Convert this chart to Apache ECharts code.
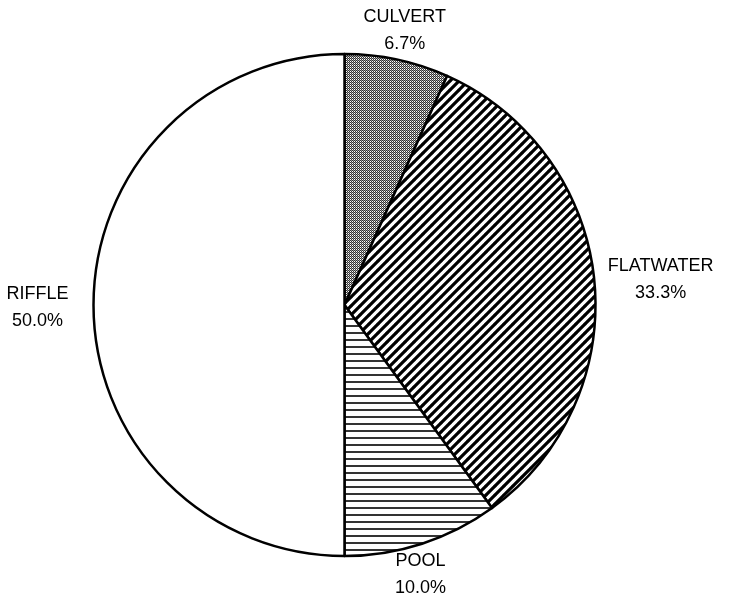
<!DOCTYPE html>
<html>
<head>
<meta charset="utf-8">
<script src="https://cdn.jsdelivr.net/npm/echarts@6/dist/echarts.min.js"></script>
<style>
  html, body { margin: 0; padding: 0; background: #fff; }
  #chart { width: 736px; height: 598px; }
</style>
</head>
<body>
<div id="chart"></div>
<script>
// Habitat types and their share of the surveyed reach (%)
const categories = ['CULVERT', 'FLATWATER', 'POOL', 'RIFFLE'];
const shares = [6.7, 33.3, 10.0, 50.0];

// Fill pattern tiles, one per habitat type
function tile(size, draw) {
  const c = document.createElement('canvas');
  c.width = size; c.height = size;
  const g = c.getContext('2d');
  g.fillStyle = '#fff';
  g.fillRect(0, 0, size, size);
  draw(g, size);
  return c;
}
const patterns = {
  CULVERT: tile(2, (g) => {
    g.fillStyle = '#333';
    g.fillRect(0, 0, 1, 1);
    g.fillRect(1, 1, 1, 1);
    g.fillStyle = '#999';
    g.fillRect(1, 0, 1, 1);
  }),
  FLATWATER: tile(9, (g, s) => {
    g.strokeStyle = '#000';
    g.lineWidth = 3.2;
    g.beginPath();
    for (let k = -1; k <= 1; k++) {
      g.moveTo(k * s - 1, s + 1);
      g.lineTo(k * s + s + 1, -1);
    }
    g.stroke();
  }),
  POOL: tile(7, (g, s) => {
    g.fillStyle = '#333';
    g.fillRect(0, 3, s, 2);
  }),
  RIFFLE: tile(4, () => {})
};

const center = [344.5, 305];
const radius = 251;

// Label placement: distance beyond the rim plus small sideways/vertical nudges
const labelPlace = {
  CULVERT:   { gap: 6,  nx: -2,  ny: 3 },
  FLATWATER: { gap: 14, nx: 0,   ny: 5 },
  POOL:      { gap: 8,  nx: -12, ny: -2 },
  RIFFLE:    { gap: 25, nx: 0,   ny: 3 }
};

const total = shares.reduce((a, b) => a + b, 0);

// Mid-angle of each slice, clockwise from 12 o'clock
const midAngles = [];
let acc = 0;
shares.forEach(v => {
  midAngles.push(((acc + v / 2) / total) * 2 * Math.PI);
  acc += v;
});

const chart = echarts.init(document.getElementById('chart'), null, { renderer: 'canvas' });
chart.setOption({
  animation: false,
  backgroundColor: '#fff',
  series: [{
    type: 'pie',
    center: center,
    radius: radius,
    startAngle: 90,
    clockwise: true,
    avoidLabelOverlap: false,
    data: categories.map((name, i) => ({
      name: name,
      value: shares[i],
      itemStyle: { color: { image: patterns[name], repeat: 'repeat' } }
    })),
    itemStyle: { borderColor: '#000', borderWidth: 2.5 },
    label: {
      show: true,
      position: 'outside',
      formatter: p => p.name + '\n' + p.value.toFixed(1) + '%',
      fontFamily: '"Liberation Sans", Arial, sans-serif',
      fontSize: 18,
      lineHeight: 27,
      color: '#000',
      align: 'center'
    },
    labelLine: { show: false },
    emphasis: { disabled: true },
    // Each label box sits just outside the rim along its slice's mid-angle
    labelLayout: function (p) {
      const a = midAngles[p.dataIndex];
      const place = labelPlace[categories[p.dataIndex]];
      const dx = Math.sin(a), dy = -Math.cos(a);
      const w = p.labelRect.width, h = p.labelRect.height;
      return {
        x: center[0] + dx * (radius + place.gap) + dx * w / 2 + place.nx,
        y: center[1] + dy * (radius + place.gap) + dy * h / 2 + place.ny,
        align: 'center',
        verticalAlign: 'middle'
      };
    }
  }]
});
</script>
</body>
</html>
